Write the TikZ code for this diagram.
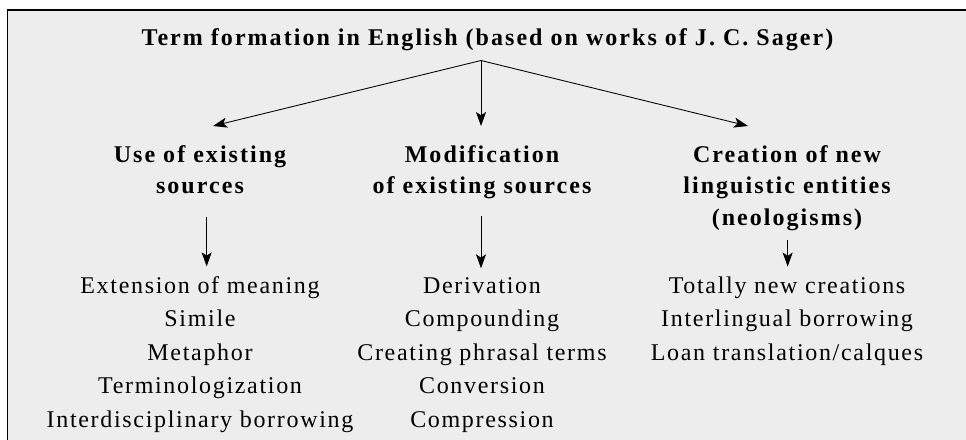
\documentclass[tikz,border=0pt]{standalone}
\usepackage{fontspec}
\setmainfont{Liberation Serif}[LetterSpace=7, BoldFeatures={LetterSpace=8.5}]
\usetikzlibrary{arrows.meta}
\definecolor{panelgray}{RGB}{236,237,236}
\tikzstyle{head} = [font=\bfseries\fontsize{18}{23.6}\selectfont, align=center, inner sep=0pt, anchor=base]
\tikzstyle{items} = [font=\fontsize{18}{25.1}\selectfont, align=center, inner sep=0pt, anchor=base]
\tikzstyle{frame} = [draw=black, line width=0.8pt, fill=panelgray]
\tikzstyle{arr} = [-{Stealth[length=10.5pt,width=7.5pt,inset=2.5pt]}, line width=0.65pt]

\begin{document}
\begin{tikzpicture}[x=0.75pt,y=-0.75pt]

  \useasboundingbox (0,0) rectangle (966,439);
  \fill[white] (0,0) rectangle (966,439);
  \clip (0,0) rectangle (966,439);
  \draw[frame] (7.5,10) rectangle (990,460);

  \node[head] (title) at (487.5,45) {Term formation in English (based on works of J. C. Sager)};

  % the three ways (placed at the baseline of their last line)
  \node[head] (use) at (200,193.5) {Use of existing\\sources};
  \node[head] (mod) at (482,193.5) {Modification\\of existing sources};
  \node[head] (new) at (787,225) {Creation of new\\linguistic entities\\(neologisms)};

  % what each way covers
  \node[items] (useList) at (200,427) {Extension of meaning\\Simile\\Metaphor\\Terminologization\\Interdisciplinary borrowing};
  \node[items] (modList) at (482,427) {Derivation\\Compounding\\Creating phrasal terms\\Conversion\\Compression};
  \node[items] (newList) at (787,360) {Totally new creations\\Interlingual borrowing\\Loan translation/calques};

  \coordinate (fork) at (481,60.5);
  \coordinate (useTip) at (213,126);
  \coordinate (modTip) at (481,126);
  \coordinate (newTip) at (748,126);

  \draw[arr] (fork) -- (useTip);
  \draw[arr] (fork) -- (modTip);
  \draw[arr] (fork) -- (newTip);

  \draw[arr, shorten <=16.9pt, shorten >=7.2pt] ([xshift=5pt]use.south) -- ([xshift=5pt]useList.north);
  \draw[arr, shorten <=13pt, shorten >=6.5pt] ([xshift=-0.75pt]mod.south) -- ([xshift=-0.75pt]modList.north);
  \draw[arr, shorten <=7.4pt, shorten >=7.2pt] ([xshift=0.5pt]new.south) -- ([xshift=0.5pt]newList.north);

\end{tikzpicture}
\end{document}
